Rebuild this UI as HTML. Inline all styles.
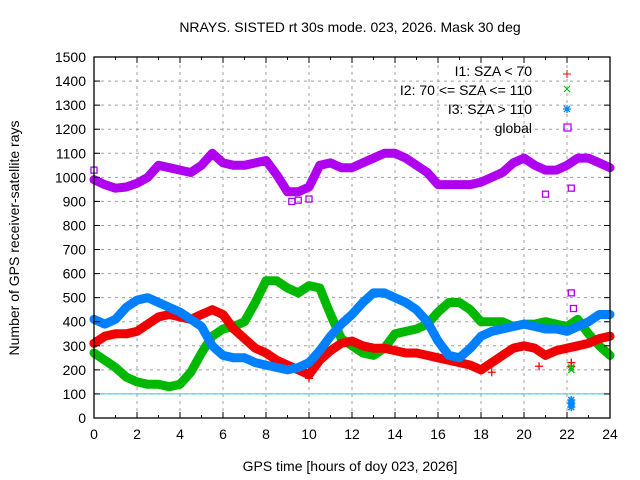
<!DOCTYPE html>
<html><head><meta charset="utf-8"><style>
body{margin:0;background:#fff}
svg{display:block;font-family:"Liberation Sans",sans-serif}
</style></head><body>
<svg id="chart" width="640" height="480" viewBox="0 0 640 480" xmlns="http://www.w3.org/2000/svg">
<rect width="640" height="480" fill="#fff"/>
<text x="350" y="32" font-size="14" text-anchor="middle" fill="#000">NRAYS. SISTED rt 30s mode. 023, 2026. Mask 30 deg</text>
<g id="grid"></g>
<g id="series"></g>
<g id="axes"></g>
<text x="350" y="471" font-size="14" text-anchor="middle">GPS time [hours of doy 023, 2026]</text>
<text transform="translate(19,238) rotate(-90)" font-size="14" text-anchor="middle">Number of GPS receiver-satellite rays</text>
<g font-size="14" text-anchor="end">
<text x="532" y="76">I1: SZA &lt; 70</text>
<text x="532" y="95">I2: 70 &lt;= SZA &lt;= 110</text>
<text x="532" y="114">I3: SZA &gt; 110</text>
<text x="532" y="133">global</text>
<path d="M567,70v8M563,74h8" stroke="#f00" stroke-width="1"/>
<path d="M564,86l6,6M570,86l-6,6" stroke="#0b0" stroke-width="1"/>
<path d="M567,105v8M563,109h8M564,106l6,6M570,106l-6,6" stroke="#08f" stroke-width="1.3"/>
<rect x="564" y="124" width="7" height="7" fill="none" stroke="#b0f" stroke-width="1.3"/>
</g>
</svg>
<script>
const hours=[0,0.5,1,1.5,2,2.5,3,3.5,4,4.5,5,5.5,6,6.5,7,7.5,8,8.5,9,9.5,10,10.5,11,11.5,12,12.5,13,13.5,14,14.5,15,15.5,16,16.5,17,17.5,18,18.5,19,19.5,20,20.5,21,21.5,22,22.5,23,23.5,24];
const globalVals=[990,970,955,960,975,1000,1050,1040,1030,1020,1050,1100,1060,1050,1050,1060,1070,1010,940,940,960,1050,1060,1040,1040,1060,1080,1100,1100,1080,1050,1020,970,970,970,970,980,1000,1020,1060,1080,1050,1030,1030,1050,1080,1080,1060,1040];
const i1Vals=[310,340,350,350,360,390,420,430,420,410,430,450,430,370,330,290,270,240,220,200,180,240,280,310,320,300,290,290,280,270,270,260,250,240,230,220,200,230,260,290,300,290,260,280,290,300,310,330,340];
const i2Vals=[270,240,210,170,150,140,140,130,140,190,270,340,370,380,400,480,570,570,540,520,550,540,430,330,300,270,260,290,350,360,370,390,440,480,480,450,400,400,400,380,390,390,400,390,380,410,350,300,260];
const i3Vals=[410,390,410,460,490,500,480,460,440,410,380,300,260,250,250,230,220,210,200,210,230,280,340,390,430,480,520,520,500,480,450,400,320,260,250,290,340,360,370,380,390,380,370,370,360,380,400,430,430];
const globalOutX=[0,9.2,9.5,10,21,22.2,22.2,22.3];
const globalOutY=[1030,900,905,910,930,955,520,455];
const i1OutX=[0,10,18.5,20.7,22.2,22.2];
const i1OutY=[320,165,190,215,215,230];
const i2OutX=[22.2,22.2];
const i2OutY=[200,210];
const i3OutX=[22.2,22.2,22.2];
const i3OutY=[45,60,75];
const yTicks=[0,100,200,300,400,500,600,700,800,900,1000,1100,1200,1300,1400,1500];
const xTicks=[0,2,4,6,8,10,12,14,16,18,20,22,24];

const NS="http://www.w3.org/2000/svg";
const X0=94,X1=610,Y0=418,Y1=57;
const sx=h=>X0+(X1-X0)*h/24;
const sy=v=>Y0-(Y0-Y1)*v/1500;
function mk(tag,attrs,parent){const e=document.createElementNS(NS,tag);for(const k in attrs)e.setAttribute(k,attrs[k]);parent.appendChild(e);return e;}
const grid=document.getElementById('grid'),axes=document.getElementById('axes'),ser=document.getElementById('series');
yTicks.forEach(v=>{
 if(v>0&&v<1500){const g=mk('line',{x1:X0,x2:X1,y1:sy(v),y2:sy(v),stroke:'#a0a0a0','stroke-dasharray':'3,4'},grid);
 
 }
 const t=mk('text',{x:X0-8,y:sy(v)+5,'font-size':14,'text-anchor':'end'},axes);t.textContent=v;
 
 
 mk('line',{x1:X0,x2:X0+6,y1:sy(v),y2:sy(v),stroke:'#000'},axes);
 mk('line',{x1:X1,x2:X1-6,y1:sy(v),y2:sy(v),stroke:'#000'},axes);
});
xTicks.forEach(h=>{
 if(h>0&&h<24){const g=mk('line',{x1:sx(h),x2:sx(h),y1:Y0,y2:Y1,stroke:'#a0a0a0','stroke-dasharray':'3,4'},grid);
 
 }
 const t=mk('text',{x:sx(h),y:Y0+21,'font-size':14,'text-anchor':'middle'},axes);t.textContent=h;
 
 
 mk('line',{x1:sx(h),x2:sx(h),y1:Y0,y2:Y0-6,stroke:'#000'},axes);
 mk('line',{x1:sx(h),x2:sx(h),y1:Y1,y2:Y1+6,stroke:'#000'},axes);
 if(h<24){mk('line',{x1:sx(h+1),x2:sx(h+1),y1:Y0,y2:Y0-3,stroke:'#000'},axes);mk('line',{x1:sx(h+1),x2:sx(h+1),y1:Y1,y2:Y1+3,stroke:'#000'},axes);}
});
const ref=mk('line',{x1:X0,x2:X1,y1:sy(100),y2:sy(100),stroke:'#3cc',"stroke-width":1},grid);


const box=mk('rect',{x:X0,y:Y1,width:X1-X0,height:Y0-Y1,fill:'none',stroke:'#000','stroke-width':1.3},axes);


function band(vals,color,name){
 const d=hours.map((h,i)=>(i?'L':'M')+sx(h).toFixed(1)+','+sy(vals[i]).toFixed(1)).join('');
 const p=mk('path',{d:d,fill:'none',stroke:color,'stroke-width':9,'stroke-linejoin':'round','stroke-linecap':'round'},ser);
 
 
}
band(globalVals,'#b000f0','series-global');
band(i2Vals,'#00b800','series-i2');
band(i1Vals,'#f00000','series-i1');
band(i3Vals,'#0080ff','series-i3');
globalOutX.forEach((h,i)=>{const r=mk('rect',{x:sx(h)-3,y:sy(globalOutY[i])-3,width:6,height:6,fill:'none',stroke:'#b000f0','stroke-width':1.3},ser);
 
 });
i1OutX.forEach((h,i)=>{const x=sx(h),y=sy(i1OutY[i]);const p=mk('path',{d:`M${x-4},${y}h8M${x},${y-4}v8`,stroke:'#f00','stroke-width':1.3},ser);
 
 });
i2OutX.forEach((h,i)=>{const x=sx(h),y=sy(i2OutY[i]);const p=mk('path',{d:`M${x-3},${y-3}l6,6M${x+3},${y-3}l-6,6`,stroke:'#0b0','stroke-width':1.3},ser);
 
 });
i3OutX.forEach((h,i)=>{const x=sx(h),y=sy(i3OutY[i]);const p=mk('path',{d:`M${x-4},${y}h8M${x},${y-4}v8M${x-3},${y-3}l6,6M${x+3},${y-3}l-6,6`,stroke:'#08f','stroke-width':1.5},ser);
 
 });
</script>
</body></html>
